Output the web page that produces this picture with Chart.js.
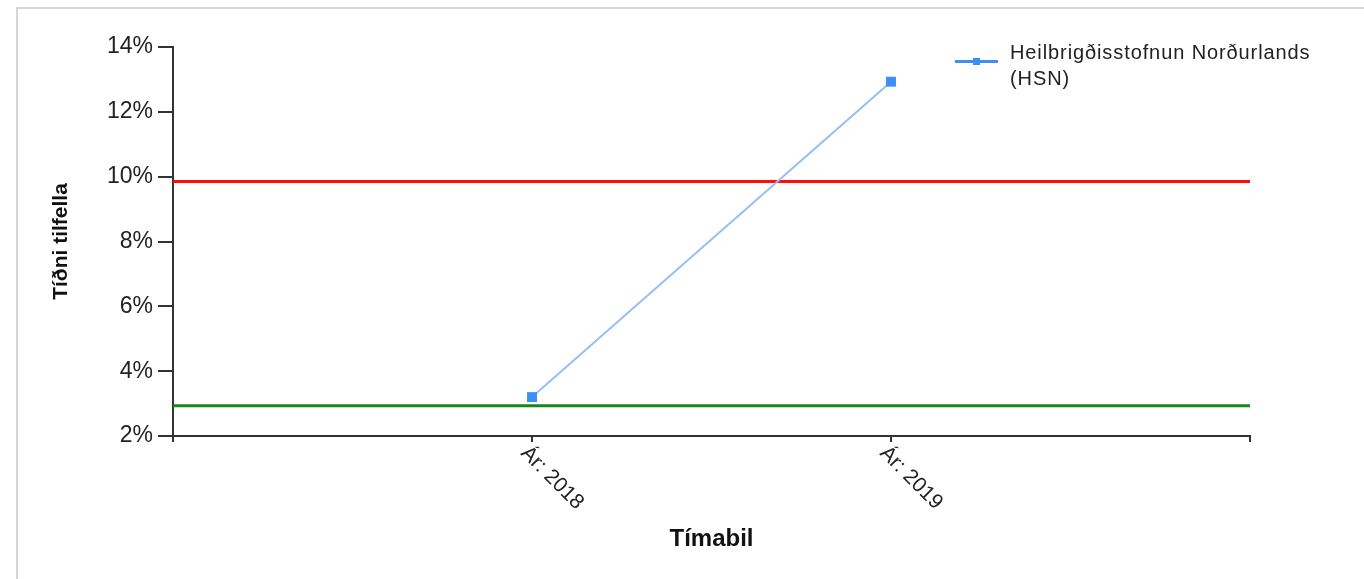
<!DOCTYPE html>
<html>
<head>
<meta charset="utf-8">
<title>Tíðni tilfella</title>
<script src="https://cdn.jsdelivr.net/npm/chart.js@4/dist/chart.umd.min.js"></script>
<style>
    html, body { margin: 0; padding: 0; background: #fff; overflow: hidden; }
    #wrap { position: relative; width: 1364px; height: 579px; }
    #frame {
        position: absolute; left: 16px; top: 7px; width: 1400px; height: 620px;
        border-left: 2px solid #d6d6d6; border-top: 2px solid #d6d6d6;
    }
    #chart { position: absolute; left: 0; top: 0; }
    #legend {
        position: absolute; left: 955px; top: 39px; width: 360px;
        font-family: "Liberation Sans", Arial, sans-serif; font-size: 20px;
        line-height: 26px; letter-spacing: 0.9px; color: #222;
    }
    #legend .swatch { position: absolute; left: 0; top: 21px; width: 43px; height: 3px; }
    #legend .mark { position: absolute; left: 18px; top: 19px; width: 7px; height: 7px; }
    #legend .text { margin-left: 55px; width: 305px; }
</style>
</head>
<body>
<div id="wrap">
    <div id="frame"></div>
    <canvas id="chart" width="1364" height="579"></canvas>
    <div id="legend"></div>
</div>
<script>
// Data
const categories = ["", "Ár: 2018", "Ár: 2019", ""];
const hsnLabel = "Heilbrigðisstofnun Norðurlands (HSN)";
const hsnValues = [null, 3.2, 12.93, null];
const upperValues = [9.85, 9.85, 9.85, 9.85];
const lowerValues = [2.93, 2.93, 2.93, 2.93];
const yTicks = [2, 4, 6, 8, 10, 12, 14];

const FONT = '"Liberation Sans", Arial, sans-serif';
const AXIS = "#333";

// x labels in the original run down to the right from the tick
const slantedLabels = {
    id: "slantedLabels",
    afterDraw(chart) {
        const xs = chart.scales.x;
        const ctx = chart.ctx;
        ctx.save();
        ctx.font = "21px " + FONT;
        ctx.fillStyle = "#222";
        ctx.textAlign = "left";
        ctx.textBaseline = "middle";
        categories.forEach((label, i) => {
            if (!label) return;
            ctx.save();
            ctx.translate(xs.getPixelForValue(i) - 8, xs.top + 14);
            ctx.rotate(Math.PI / 4);
            ctx.fillText(label, 0, 0);
            ctx.restore();
        });
        ctx.restore();
    }
};

// legend sits over the top right of the plot, built from the dataset
const htmlLegend = {
    id: "htmlLegend",
    afterUpdate(chart) {
        const ds = chart.data.datasets[0];
        document.getElementById("legend").innerHTML =
            `<span class="swatch" style="background:${ds.pointBackgroundColor}"></span>` +
            `<span class="mark" style="background:${ds.pointBackgroundColor}"></span>` +
            `<div class="text">${ds.label}</div>`;
    }
};

const ctx = document.getElementById("chart").getContext("2d");
const chart = new Chart(ctx, {
    type: "line",
    data: {
        labels: categories,
        datasets: [
            {
                label: hsnLabel,
                data: hsnValues,
                borderColor: "rgb(150, 190, 245)",
                borderWidth: 2,
                pointStyle: "rect",
                pointRadius: 7,
                pointBorderWidth: 0,
                pointBackgroundColor: "#3d8ef5",
                pointBorderColor: "#3d8ef5"
            },
            {
                label: "Efri mörk",
                data: upperValues,
                borderColor: "#ff0d0d",
                borderWidth: 3,
                pointRadius: 0
            },
            {
                label: "Neðri mörk",
                data: lowerValues,
                borderColor: "rgb(25, 135, 25)",
                borderWidth: 3,
                pointRadius: 0
            }
        ]
    },
    options: {
        responsive: false,
        animation: false,
        layout: { padding: { left: 0, right: 114, top: 47, bottom: 0 } },
        plugins: {
            legend: { display: false },
            tooltip: { enabled: false }
        },
        scales: {
            x: {
                offset: false,
                border: { display: true, color: AXIS, width: 2 },
                grid: { drawOnChartArea: false, drawTicks: true, tickLength: 6, color: AXIS, lineWidth: 2 },
                ticks: { display: false },
                title: {
                    display: true,
                    text: "Tímabil",
                    color: "#111",
                    font: { family: FONT, size: 24, weight: "bold" },
                    padding: { top: 0, bottom: 25 }
                },
                afterFit(scale) { scale.height = 143; }
            },
            y: {
                min: yTicks[0],
                max: yTicks[yTicks.length - 1],
                border: { display: true, color: AXIS, width: 2 },
                grid: { drawOnChartArea: false, drawTicks: true, tickLength: 15, color: AXIS, lineWidth: 2 },
                ticks: {
                    padding: 5,
                    color: "#222",
                    font: { family: FONT, size: 23 },
                    callback: v => v + "%"
                },
                afterBuildTicks(scale) { scale.ticks = yTicks.map(v => ({ value: v })); },
                title: {
                    display: true,
                    text: "Tíðni tilfella",
                    color: "#111",
                    font: { family: FONT, size: 21, weight: "bold" },
                    padding: { top: 49, bottom: 0 }
                },
                afterFit(scale) { scale.width = 173; }
            }
        }
    },
    plugins: [slantedLabels, htmlLegend]
});
</script>
</body>
</html>
